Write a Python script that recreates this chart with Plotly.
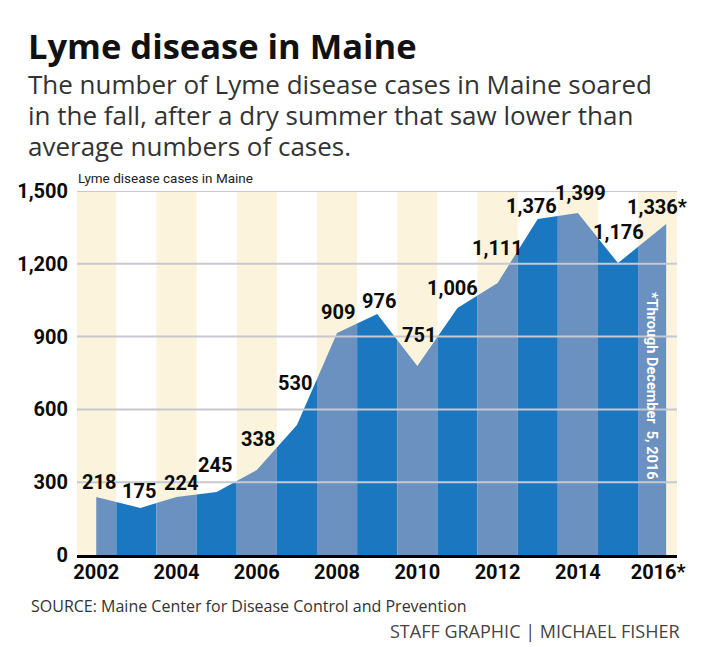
import numpy as np
import plotly.graph_objects as go

years = [2002, 2003, 2004, 2005, 2006, 2007, 2008, 2009, 2010, 2011, 2012, 2013, 2014, 2015, 2016]
# printed numbers
label_values = [218, 175, 224, 245, 338, 530, 909, 976, 751, 1006, 1111, 1376, 1399, 1176, 1336]
# the drawn area sits a little higher than the printed numbers
area_years = [2002, 2003.1, 2004, 2005, 2006, 2007, 2008, 2009, 2010, 2011, 2012, 2013, 2014, 2015, 2016.2]
area_values = [239, 194, 239, 260, 350, 536, 915, 993, 779, 1018, 1121, 1385, 1409, 1203, 1364]

y_ticks = [0, 300, 600, 900, 1200, 1500]
x_ticks = [2002, 2004, 2006, 2008, 2010, 2012, 2014, 2016]
x_ticktext = ["2002", "2004", "2006", "2008", "2010", "2012", "2014", "2016*"]

# pixel nudges of the number labels from their points
label_dx = [3, 3, 4, -2, 1, -2, 1, 2, 2, -5, 0, -6, 3, 0, -1]
label_dy = [15, 17, 14, 27, 31, 42, 21, 13, 31, 20, 35, 13, 20, 31, 17]

# page has an 8px body margin
W, H = 694, 639
L, T, R, B = 77, 191, 677, 555
NARROW = "Roboto"
CREAM = "#fbf3dc"
DARK_BLUE = "#1a77c0"
LIGHT_BLUE = "#6a91c0"
GRID = "#c8c8d0"


def px(x):
    return (x - L) / (R - L)


def py(y):
    return (B - y) / (B - T)


fig = go.Figure()

# cream background stripes on even years
even_years = [y for y in years if y % 2 == 0]
fig.add_trace(go.Bar(x=even_years, y=[y_ticks[-1]] * len(even_years), width=1,
                     marker=dict(color=CREAM, line=dict(width=0)), hoverinfo="skip"))

# area, one filled piece for each year band so the colours can alternate
for year in years:
    lo = max(year - 0.5, area_years[0])
    hi = min(year + 0.5, area_years[-1])
    inner = [x for x in area_years if lo < x < hi]
    xs = [lo] + inner + [hi]
    ys = list(np.interp(xs, area_years, area_values))
    fig.add_trace(go.Scatter(x=[lo] + xs + [hi], y=[0] + ys + [0], mode="lines", fill="toself",
                             fillcolor=LIGHT_BLUE if year % 2 == 0 else DARK_BLUE,
                             line=dict(width=0), hoverinfo="skip"))

# gridlines run over the area
for tick in y_ticks[1:]:
    fig.add_hline(y=tick, line=dict(color=GRID, width=2), layer="above")

# number labels
for i, v in enumerate(label_values):
    text = f"{v:,}"
    if years[i] == 2016:
        text += "*"
    fig.add_annotation(x=years[i], y=area_values[i], text=text, showarrow=False,
                       xshift=label_dx[i], yshift=label_dy[i], xanchor="center", yanchor="middle",
                       font=dict(family=NARROW, size=20, color="#0b0b0b", weight="bold"))


def note(x, y, text, size, color, family, weight="normal", **kw):
    fig.add_annotation(x=px(x), y=py(y), xref="paper", yref="paper", text=text, showarrow=False,
                       xanchor=kw.pop("xanchor", "left"), yanchor="middle",
                       font=dict(family=family, size=size, color=color, weight=weight), **kw)


note(26, 45, "Lyme disease in Maine", 34.5, "#111111", "Open Sans", weight="bold")
note(26, 84, "The number of Lyme disease cases in Maine soared", 26, "#333333", "Open Sans")
note(26, 115, "in the fall, after a dry summer that saw lower than", 26, "#333333", "Open Sans")
note(26, 146, "average numbers of cases.", 26, "#333333", "Open Sans")
note(76, 178, "Lyme disease cases in Maine", 13.5, "#222222", NARROW)
note(29, 606, "SOURCE: Maine Center for Disease Control and Prevention", 16, "#333333", "Open Sans")
note(682, 631, "STAFF GRAPHIC | MICHAEL FISHER", 18, "#444444", "Open Sans", xanchor="right")
note(652, 386, "*Through December  5, 2016", 14.5, "#ffffff", NARROW, weight="bold",
     xanchor="center", textangle=90)

tick_font = dict(family=NARROW, size=20, color="#0b0b0b", weight="bold")
fig.update_layout(
    width=W, height=H,
    margin=dict(l=L - 8, r=W + 8 - R, t=T - 8, b=H + 8 - B),
    paper_bgcolor="white", plot_bgcolor="white",
    showlegend=False,
    xaxis=dict(range=[2001.52, 2016.47], tickmode="array", tickvals=x_ticks, ticktext=x_ticktext,
               showgrid=False, zeroline=False, showline=True, linecolor="#000000", linewidth=3,
               automargin=False, ticks="", ticklabelstandoff=-3, tickfont=tick_font),
    yaxis=dict(range=[0, 1500], tickmode="array", tickvals=y_ticks, tickformat=",",
               showgrid=False, zeroline=False, showline=False, automargin=False,
               ticks="outside", ticklen=4, tickcolor="rgba(0,0,0,0)", tickfont=tick_font),
)

fig.write_html("out.html")
